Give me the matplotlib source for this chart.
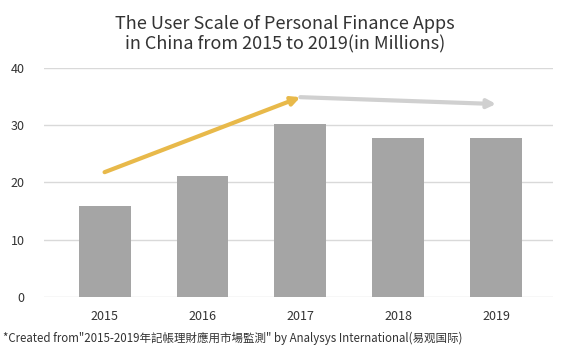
import matplotlib
matplotlib.use("Agg")
import matplotlib.pyplot as plt

plt.rcParams['font.family'] = ['Noto Sans CJK SC', 'DejaVu Sans']

years = ["2015", "2016", "2017", "2018", "2019"]
users = [15.9, 21.1, 30.2, 27.8, 27.8]
y_ticks = [0, 10, 20, 30, 40]

# trend arrows: (start index, start value) -> (end index, end value)
rise_arrow = [(0, 21.8), (2, 34.9)]
flat_arrow = [(2, 34.9), (4, 33.7)]

title = "The User Scale of Personal Finance Apps\nin China from 2015 to 2019(in Millions)"
note = '*Created from"2015-2019年記帳理財應用市場監測" by Analysys International(易观国际)'

fig = plt.figure(figsize=(5.7, 3.54), dpi=100)
ax = fig.add_axes([0.077, 0.161, 0.893, 0.647])

x = list(range(len(years)))
ax.bar(x, users, width=0.53, color="#a5a5a5", zorder=2)

ax.set_xlim(-0.62, 4.58)
ax.set_ylim(0, 40)
ax.set_yticks(y_ticks)
ax.set_xticks(x)
ax.set_xticklabels(years)
ax.tick_params(axis="both", length=0, labelsize=9, colors="#333333")
ax.tick_params(axis="x", pad=9)
ax.tick_params(axis="y", pad=14)
ax.grid(axis="y", color="#d9d9d9", linewidth=1, zorder=0)
for s in ax.spines.values():
    s.set_visible(False)

ax.annotate("", xy=rise_arrow[1], xytext=rise_arrow[0],
            arrowprops=dict(arrowstyle="-|>,head_length=0.5,head_width=0.25",
                            color="#e8b94a", lw=3, shrinkA=0, shrinkB=0),
            zorder=4)
ax.annotate("", xy=flat_arrow[1], xytext=flat_arrow[0],
            arrowprops=dict(arrowstyle="-|>,head_length=0.5,head_width=0.25",
                            color="#d0d0d0", lw=3, shrinkA=0, shrinkB=0),
            zorder=3)

fig.text(0.5, 0.903, title, ha="center", va="center", fontsize=13,
         color="#333333", linespacing=1.2)
fig.text(0.005, 0.045, note, ha="left", va="center", fontsize=8.3,
         color="#333333")

fig.savefig("out.png", dpi=100)
